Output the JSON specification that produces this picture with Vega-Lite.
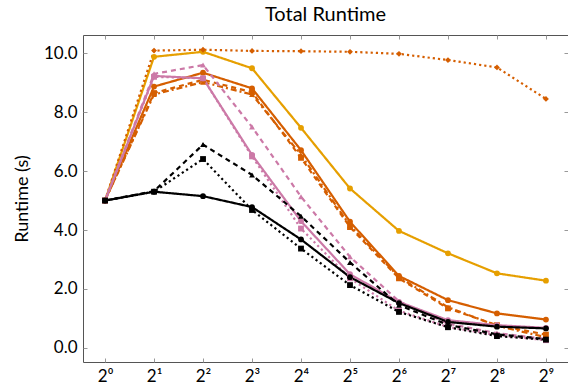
{
  "$schema": "https://vega.github.io/schema/vega-lite/v6.json",
  "width": 485,
  "height": 327,
  "autosize": {"type": "none"},
  "padding": {"left": 83, "top": 35, "right": 0, "bottom": 27},
  "background": "white",
  "config": {
    "font": "Lato",
    "view": {"stroke": "#555555", "strokeWidth": 1},
    "axis": {"domain": false, "grid": false, "tickColor": "#999999", "tickSize": -4, "tickWidth": 1, "labelFont": "Lato", "labelFontSize": 17, "labelColor": "#000000", "titleFont": "Lato", "titleFontSize": 18, "titleFontWeight": "normal", "titleColor": "#000000"},
    "title": {"font": "Lato", "fontSize": 20, "fontWeight": "normal", "color": "#000000"}
  },
  "title": {"text": "Total Runtime", "anchor": "middle", "offset": 10},
  "data": {"values": [
    {"s":"K","i":0,"v":5.0},{"s":"K","i":1,"v":9.88},{"s":"K","i":2,"v":10.05},{"s":"K","i":3,"v":9.49},{"s":"K","i":4,"v":7.47},{"s":"K","i":5,"v":5.41},{"s":"K","i":6,"v":3.97},{"s":"K","i":7,"v":3.21},{"s":"K","i":8,"v":2.53},{"s":"K","i":9,"v":2.28},
    {"s":"J","i":0,"v":5.0},{"s":"J","i":1,"v":10.09},{"s":"J","i":2,"v":10.12},{"s":"J","i":3,"v":10.08},{"s":"J","i":4,"v":10.07},{"s":"J","i":5,"v":10.05},{"s":"J","i":6,"v":9.98},{"s":"J","i":7,"v":9.77},{"s":"J","i":8,"v":9.52},{"s":"J","i":9,"v":8.45},
    {"s":"I","i":0,"v":5.0},{"s":"I","i":1,"v":8.6},{"s":"I","i":2,"v":9.02},{"s":"I","i":3,"v":8.6},{"s":"I","i":4,"v":6.55},{"s":"I","i":5,"v":4.15},{"s":"I","i":6,"v":2.4},{"s":"I","i":7,"v":1.38},{"s":"I","i":8,"v":0.75},{"s":"I","i":9,"v":0.36},
    {"s":"H","i":0,"v":5.0},{"s":"H","i":1,"v":8.65},{"s":"H","i":2,"v":9.1},{"s":"H","i":3,"v":8.68},{"s":"H","i":4,"v":6.45},{"s":"H","i":5,"v":4.1},{"s":"H","i":6,"v":2.36},{"s":"H","i":7,"v":1.34},{"s":"H","i":8,"v":0.77},{"s":"H","i":9,"v":0.45},
    {"s":"G","i":0,"v":5.0},{"s":"G","i":1,"v":8.87},{"s":"G","i":2,"v":9.34},{"s":"G","i":3,"v":8.81},{"s":"G","i":4,"v":6.71},{"s":"G","i":5,"v":4.28},{"s":"G","i":6,"v":2.44},{"s":"G","i":7,"v":1.62},{"s":"G","i":8,"v":1.17},{"s":"G","i":9,"v":0.96},
    {"s":"F","i":0,"v":5.0},{"s":"F","i":1,"v":9.2},{"s":"F","i":2,"v":9.15},{"s":"F","i":3,"v":6.5},{"s":"F","i":4,"v":4.05},{"s":"F","i":5,"v":2.36},{"s":"F","i":6,"v":1.26},{"s":"F","i":7,"v":0.71},{"s":"F","i":8,"v":0.43},{"s":"F","i":9,"v":0.26},
    {"s":"E","i":0,"v":5.0},{"s":"E","i":1,"v":9.3},{"s":"E","i":2,"v":9.6},{"s":"E","i":3,"v":7.5},{"s":"E","i":4,"v":5.13},{"s":"E","i":5,"v":3.09},{"s":"E","i":6,"v":1.58},{"s":"E","i":7,"v":0.82},{"s":"E","i":8,"v":0.5},{"s":"E","i":9,"v":0.3},
    {"s":"D","i":0,"v":5.0},{"s":"D","i":1,"v":9.23},{"s":"D","i":2,"v":9.15},{"s":"D","i":3,"v":6.55},{"s":"D","i":4,"v":4.3},{"s":"D","i":5,"v":2.5},{"s":"D","i":6,"v":1.56},{"s":"D","i":7,"v":0.94},{"s":"D","i":8,"v":0.77},{"s":"D","i":9,"v":0.68},
    {"s":"C","i":0,"v":5.0},{"s":"C","i":1,"v":5.3},{"s":"C","i":2,"v":6.41},{"s":"C","i":3,"v":4.68},{"s":"C","i":4,"v":3.37},{"s":"C","i":5,"v":2.13},{"s":"C","i":6,"v":1.22},{"s":"C","i":7,"v":0.7},{"s":"C","i":8,"v":0.4},{"s":"C","i":9,"v":0.28},
    {"s":"B","i":0,"v":5.0},{"s":"B","i":1,"v":5.32},{"s":"B","i":2,"v":6.9},{"s":"B","i":3,"v":5.87},{"s":"B","i":4,"v":4.47},{"s":"B","i":5,"v":2.9},{"s":"B","i":6,"v":1.45},{"s":"B","i":7,"v":0.78},{"s":"B","i":8,"v":0.46},{"s":"B","i":9,"v":0.3},
    {"s":"A","i":0,"v":5.0},{"s":"A","i":1,"v":5.3},{"s":"A","i":2,"v":5.15},{"s":"A","i":3,"v":4.78},{"s":"A","i":4,"v":3.68},{"s":"A","i":5,"v":2.4},{"s":"A","i":6,"v":1.52},{"s":"A","i":7,"v":0.88},{"s":"A","i":8,"v":0.72},{"s":"A","i":9,"v":0.66}
  ]},
  "resolve": {"axis": {"x": "independent", "y": "independent"}},
  "layer": [
    {
      "mark": {"type": "line", "strokeWidth": 2.2, "clip": true},
      "encoding": {
        "x": {"field": "i", "type": "quantitative", "scale": {"domain": [-0.45, 9.45], "nice": false, "zero": false},
              "axis": {"orient": "bottom", "title": null, "values": [0,1,2,3,4,5,6,7,8,9], "labelPadding": 10,
                       "labelExpr": "'2' + ['⁰','¹','²','³','⁴','⁵','⁶','⁷','⁸','⁹'][datum.value]"}},
        "y": {"field": "v", "type": "quantitative", "scale": {"domain": [-0.48, 10.62], "nice": false, "zero": false},
              "axis": {"orient": "left", "title": "Runtime (s)", "values": [0,2,4,6,8,10], "format": ".1f", "labelPadding": 10, "titlePadding": 12}},
        "color": {"field": "s", "type": "nominal", "legend": null,
                  "scale": {"domain": ["A","B","C","D","E","F","G","H","I","J","K"],
                            "range": ["#000000","#000000","#000000","#CC79A7","#CC79A7","#CC79A7","#D55E00","#D55E00","#D55E00","#D55E00","#E69F00"]}},
        "strokeDash": {"field": "s", "type": "nominal", "legend": null,
                       "scale": {"domain": ["A","B","C","D","E","F","G","H","I","J","K"],
                                 "range": [[1,0],[5,4],[2.2,3],[1,0],[5,4],[2.2,3],[1,0],[5,4],[6,3,2,3],[2.2,3],[1,0]]}},
        "order": {"field": "i", "type": "quantitative"}
      }
    },
    {
      "mark": {"type": "point", "filled": true, "opacity": 1, "clip": true},
      "encoding": {
        "x": {"field": "i", "type": "quantitative", "axis": {"orient": "top", "labels": false, "title": null, "values": [0,1,2,3,4,5,6,7,8,9]}},
        "y": {"field": "v", "type": "quantitative", "axis": {"orient": "right", "labels": false, "title": null, "values": [0,2,4,6,8,10]}},
        "color": {"field": "s", "type": "nominal", "legend": null},
        "shape": {"field": "s", "type": "nominal", "legend": null,
                  "scale": {"domain": ["A","B","C","D","E","F","G","H","I","J","K"],
                            "range": ["circle","triangle-up","square","circle","triangle-up","square","circle","square","triangle-up","diamond","circle"]}},
        "size": {"value": 34}
      }
    }
  ]
}
